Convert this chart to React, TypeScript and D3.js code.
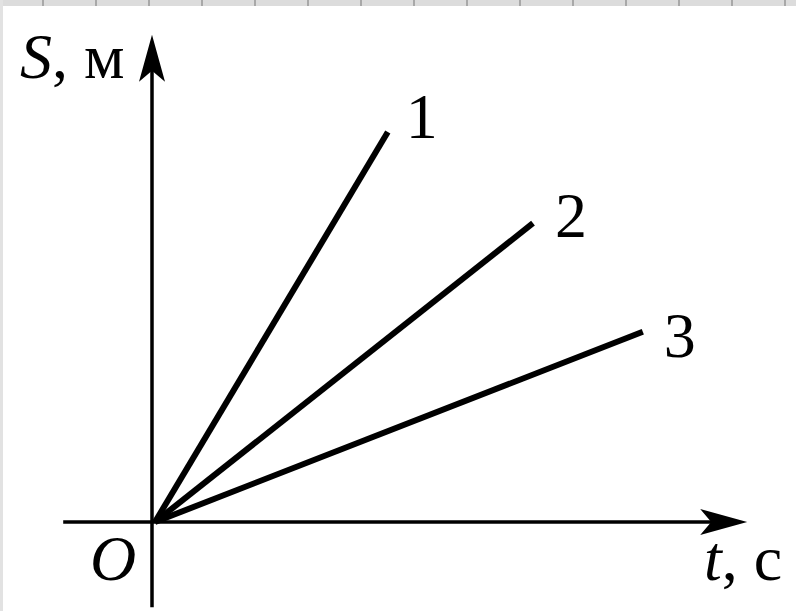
import React from 'react';
import * as d3 from 'd3';

// motion graphs S(t) for three bodies, lines start at origin
const seriesNames = ['1', '2', '3'];
const tEnd = [3.88, 6.3, 8.13];
const sEnd = [6.5, 4.98, 3.17];

const tAxisRange = [-1.53, 9.87];
const sAxisRange = [-1.42, 8.12];

const W = 796;
const H = 611;

const x = d3.scaleLinear().domain([0, 10]).range([155, 755]);
const y = d3.scaleLinear().domain([0, 8]).range([522, 42]);

// where each number sits, relative to the end of its line
const labelOffset = [[18, 6], [22, 14], [21, 25]];

const font = 'Liberation Serif';

const App = () => {
    const line = d3.line<[number, number]>()
        .x(d => x(d[0]))
        .y(d => y(d[1]));

    const x0 = x(0), y0 = y(0);
    const xTip = x(tAxisRange[1]);
    const yTip = y(sAxisRange[1]);

    const topTicks = d3.range(43, W, 53);
    const txt = { fontFamily: font, fontSize: 64, fill: '#000' };

    return (
        <svg width={W} height={H} style={{ display: 'block', position: 'absolute', left: 0, top: 0, background: '#fff' }}>
            <rect x={0} y={0} width={W} height={H} fill="#fff" />
            {/* scan edge */}
            <rect x={0} y={0} width={W} height={6} fill="#dcdcdc" />
            <rect x={0} y={0} width={3} height={H} fill="#e2e2e2" />
            {topTicks.map((t, i) => (
                <line key={i} x1={t} x2={t} y1={0} y2={6} stroke="#a8a8a8" strokeWidth={2} />
            ))}

            {/* axes */}
            <line x1={x(tAxisRange[0])} x2={xTip - 20} y1={y0} y2={y0} stroke="#000" strokeWidth={3.5} />
            <path d={`M${xTip},${y0} L${xTip - 47},${y0 - 13} L${xTip - 36},${y0} L${xTip - 47},${y0 + 13} Z`} fill="#000" />
            <line x1={x0 - 3} x2={x0 - 3} y1={y(sAxisRange[0])} y2={yTip + 20} stroke="#000" strokeWidth={3.5} />
            <path d={`M${x0 - 3},${yTip} L${x0 - 16},${yTip + 47} L${x0 - 3},${yTip + 36} L${x0 + 10},${yTip + 47} Z`} fill="#000" />

            {/* graphs */}
            {seriesNames.map((name, i) => (
                <path key={name}
                    d={line([[0, 0], [tEnd[i], sEnd[i]]]) || ''}
                    stroke="#000" strokeWidth={6} fill="none" strokeLinecap="butt" />
            ))}
            {seriesNames.map((name, i) => (
                <text key={'l' + name}
                    x={x(tEnd[i]) + labelOffset[i][0]}
                    y={y(sEnd[i]) + labelOffset[i][1]}
                    style={txt}>{name}</text>
            ))}

            {/* axis titles */}
            <text x={20} y={78} style={txt}>
                <tspan style={{ fontStyle: 'italic' }}>S</tspan>, м
            </text>
            <text x={704} y={580} style={txt}>
                <tspan style={{ fontStyle: 'italic' }}>t</tspan>, с
            </text>
            <text x={90} y={580} style={{ ...txt, fontStyle: 'italic' }}>O</text>
        </svg>
    );
};

export default App;
